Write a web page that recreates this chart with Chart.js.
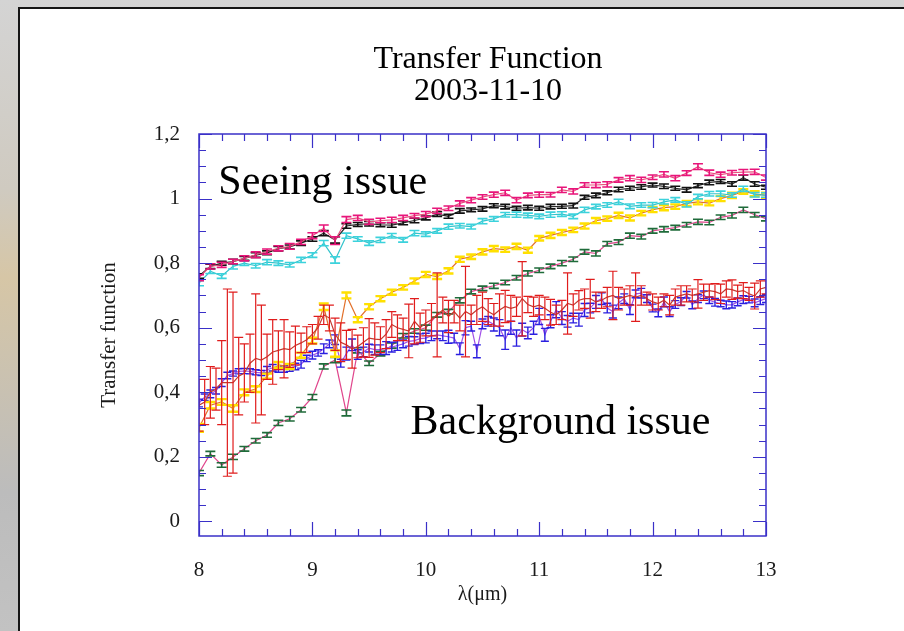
<!DOCTYPE html>
<html>
<head>
<meta charset="utf-8">
<script src="https://cdn.jsdelivr.net/npm/chart.js@4.4.1/dist/chart.umd.min.js"></script>
<style>
  html, body { margin: 0; padding: 0; width: 904px; height: 631px; overflow: hidden; }
  body {
    position: relative;
    background: linear-gradient(180deg, #d4d4d4 0%, #cfcac0 30%, #d6c6a6 44%, #cdc3ae 56%, #bcbcbc 78%, #c2c2c2 100%);
  }
  #panel { position: absolute; left: 18px; top: 7px; width: 900px; height: 640px;
           background: #fff; border: 2px solid #151515; box-sizing: border-box; }
  #wrap { position: absolute; left: 0; top: 0; width: 904px; height: 631px; }
</style>
</head>
<body>
<div id="panel"></div>
<div id="wrap"><canvas id="c" width="904" height="631"></canvas></div>
<script>
// Wavelength grids (µm)
const lambdaCoarse = [
  8.0, 8.1, 8.2, 8.3, 8.4, 8.5, 8.6, 8.7, 8.8, 8.9,
  9.0, 9.1, 9.2, 9.3, 9.4, 9.5, 9.6, 9.7, 9.8, 9.9,
  10.0, 10.1, 10.2, 10.3, 10.4, 10.5, 10.6, 10.7, 10.8, 10.9,
  11.0, 11.1, 11.2, 11.3, 11.4, 11.5, 11.6, 11.7, 11.8, 11.9,
  12.0, 12.1, 12.2, 12.3, 12.4, 12.5, 12.6, 12.7, 12.8, 12.9,
  13.0
];
const lambdaFine = [
  8.00, 8.05, 8.10, 8.15, 8.20, 8.25, 8.30, 8.35, 8.40, 8.45, 8.50, 8.55, 8.60, 8.65, 8.70, 8.75, 8.80, 8.85, 8.90, 8.95,
  9.00, 9.05, 9.10, 9.15, 9.20, 9.25, 9.30, 9.35, 9.40, 9.45, 9.50, 9.55, 9.60, 9.65, 9.70, 9.75, 9.80, 9.85, 9.90, 9.95,
  10.00, 10.05, 10.10, 10.15, 10.20, 10.25, 10.30, 10.35, 10.40, 10.45, 10.50, 10.55, 10.60, 10.65, 10.70, 10.75, 10.80, 10.85, 10.90, 10.95,
  11.00, 11.05, 11.10, 11.15, 11.20, 11.25, 11.30, 11.35, 11.40, 11.45, 11.50, 11.55, 11.60, 11.65, 11.70, 11.75, 11.80, 11.85, 11.90, 11.95,
  12.00, 12.05, 12.10, 12.15, 12.20, 12.25, 12.30, 12.35, 12.40, 12.45, 12.50, 12.55, 12.60, 12.65, 12.70, 12.75, 12.80, 12.85, 12.90, 12.95,
  13.00
];

// Tick values
const xTicks = [8, 9, 10, 11, 12, 13];
const yTicks = [0, 0.2, 0.4, 0.6, 0.8, 1, 1.2];

// Transfer function per calibrator, with 1-sigma errors
const magentaTF = [
  0.755, 0.79, 0.795, 0.805, 0.815, 0.826, 0.836, 0.846, 0.852, 0.866,
  0.885, 0.908, 0.87, 0.935, 0.94, 0.928, 0.932, 0.934, 0.94, 0.947,
  0.952, 0.962, 0.97, 0.985, 0.995, 1.005, 1.012, 1.018, 0.995, 1.01,
  1.012, 1.012, 1.027, 1.022, 1.042, 1.042, 1.044, 1.058, 1.063, 1.058,
  1.066, 1.075, 1.063, 1.079, 1.099, 1.08, 1.074, 1.08, 1.082, 1.083,
  1.065
];
const magentaErr = [
  0.009, 0.008, 0.008, 0.007, 0.008, 0.009, 0.008, 0.008, 0.009, 0.008,
  0.009, 0.01, 0.012, 0.009, 0.008, 0.008, 0.007, 0.008, 0.008, 0.007,
  0.008, 0.008, 0.007, 0.008, 0.008, 0.007, 0.008, 0.008, 0.008, 0.007,
  0.008, 0.007, 0.008, 0.008, 0.007, 0.008, 0.008, 0.007, 0.008, 0.008,
  0.007, 0.008, 0.008, 0.007, 0.009, 0.008, 0.008, 0.007, 0.008, 0.008,
  0.008
];
const blackTF = [
  0.76, 0.79, 0.8, 0.805, 0.815, 0.825, 0.832, 0.845, 0.85, 0.862,
  0.875, 0.893, 0.872, 0.915, 0.92, 0.922, 0.919, 0.918, 0.925, 0.932,
  0.94, 0.952, 0.945, 0.962, 0.965, 0.968, 0.978, 0.975, 0.97, 0.972,
  0.97, 0.975, 0.976, 0.978, 1.004, 1.01, 1.018, 1.028, 1.032, 1.036,
  1.042, 1.038, 1.032, 1.027, 1.04, 1.05, 1.053, 1.045, 1.065, 1.045,
  1.035
];
const blackErr = [
  0.007, 0.007, 0.006, 0.007, 0.006, 0.007, 0.006, 0.007, 0.006, 0.007,
  0.007, 0.008, 0.01, 0.007, 0.006, 0.007, 0.006, 0.007, 0.006, 0.007,
  0.006, 0.007, 0.006, 0.007, 0.006, 0.007, 0.006, 0.007, 0.006, 0.007,
  0.006, 0.007, 0.006, 0.007, 0.006, 0.007, 0.006, 0.007, 0.006, 0.007,
  0.006, 0.007, 0.006, 0.007, 0.006, 0.007, 0.006, 0.007, 0.008, 0.007,
  0.006
];
const cyanTF = [
  0.738, 0.775, 0.76, 0.79, 0.8, 0.792, 0.803, 0.8, 0.795, 0.81,
  0.825, 0.862, 0.81, 0.885, 0.875, 0.862, 0.872, 0.885, 0.872, 0.893,
  0.89, 0.9, 0.913, 0.916, 0.913, 0.93, 0.937, 0.95, 0.95, 0.948,
  0.945, 0.95, 0.952, 0.945, 0.965, 0.975, 0.98, 0.99, 0.976, 0.98,
  0.98, 0.99, 0.996, 0.982, 1.006, 1.015, 1.015, 1.011, 1.03, 1.012,
  1.011
];
const cyanErr = [
  0.008, 0.007, 0.007, 0.008, 0.007, 0.007, 0.008, 0.007, 0.007, 0.008,
  0.007, 0.008, 0.01, 0.008, 0.007, 0.007, 0.008, 0.007, 0.007, 0.008,
  0.007, 0.007, 0.008, 0.007, 0.007, 0.008, 0.007, 0.007, 0.008, 0.007,
  0.007, 0.008, 0.007, 0.007, 0.008, 0.007, 0.007, 0.008, 0.007, 0.007,
  0.008, 0.007, 0.007, 0.008, 0.007, 0.007, 0.008, 0.007, 0.008, 0.007,
  0.007
];
const yellowTF = [
  0.29, 0.36, 0.37, 0.35, 0.4, 0.41, 0.45, 0.485, 0.48, 0.515,
  0.56, 0.665, 0.52, 0.70, 0.625, 0.665, 0.69, 0.71, 0.725, 0.745,
  0.765, 0.758, 0.776, 0.812, 0.82, 0.835, 0.845, 0.842, 0.852, 0.84,
  0.877, 0.886, 0.895, 0.903, 0.915, 0.932, 0.938, 0.948, 0.94, 0.955,
  0.966, 0.972, 0.975, 0.985, 0.99, 0.986, 1.0, 1.01, 1.022, 1.015,
  1.01
];
const yellowErr = [
  0.012, 0.01, 0.009, 0.01, 0.009, 0.009, 0.008, 0.009, 0.008, 0.008,
  0.009, 0.01, 0.01, 0.009, 0.008, 0.008, 0.008, 0.008, 0.007, 0.008,
  0.008, 0.007, 0.008, 0.008, 0.007, 0.008, 0.008, 0.007, 0.008, 0.008,
  0.007, 0.008, 0.008, 0.007, 0.008, 0.008, 0.007, 0.008, 0.008, 0.007,
  0.008, 0.008, 0.007, 0.008, 0.008, 0.007, 0.008, 0.008, 0.007, 0.008,
  0.008
];
const greenTF = [
  0.15, 0.21, 0.175, 0.2, 0.225, 0.25, 0.268, 0.305, 0.318, 0.346,
  0.385, 0.48, 0.5, 0.336, 0.53, 0.49, 0.52, 0.545, 0.575, 0.59,
  0.6, 0.64, 0.65, 0.685, 0.712, 0.722, 0.73, 0.74, 0.755, 0.768,
  0.778, 0.79, 0.8, 0.812, 0.835, 0.83, 0.86, 0.865, 0.885, 0.882,
  0.9, 0.905, 0.91, 0.919, 0.928, 0.926, 0.942, 0.948, 0.965, 0.95,
  0.938
];
const greenErr = [
  0.008, 0.007, 0.007, 0.008, 0.007, 0.007, 0.007, 0.008, 0.007, 0.007,
  0.008, 0.008, 0.008, 0.009, 0.008, 0.007, 0.007, 0.008, 0.007, 0.007,
  0.008, 0.007, 0.007, 0.008, 0.007, 0.007, 0.008, 0.007, 0.007, 0.008,
  0.007, 0.007, 0.008, 0.007, 0.007, 0.008, 0.007, 0.007, 0.008, 0.007,
  0.007, 0.008, 0.007, 0.007, 0.008, 0.007, 0.007, 0.008, 0.008, 0.007,
  0.007
];
const blueTF = [
  0.367, 0.385, 0.395, 0.405, 0.43, 0.452, 0.458, 0.465, 0.466, 0.465, 0.462, 0.46, 0.47, 0.476, 0.47, 0.472, 0.475, 0.48, 0.487, 0.505,
  0.515, 0.522, 0.535, 0.55, 0.563, 0.49, 0.52, 0.547, 0.517, 0.525, 0.537, 0.532, 0.532, 0.537, 0.54, 0.545, 0.55, 0.558, 0.56, 0.566,
  0.568, 0.575, 0.578, 0.575, 0.572, 0.568, 0.535, 0.60, 0.605, 0.527, 0.612, 0.62, 0.61, 0.60, 0.563, 0.60, 0.568, 0.594, 0.584, 0.60,
  0.635, 0.578, 0.62, 0.656, 0.63, 0.62, 0.63, 0.625, 0.655, 0.661, 0.68, 0.69, 0.661, 0.65, 0.677, 0.69, 0.656, 0.705, 0.707, 0.69,
  0.661, 0.646, 0.68, 0.65, 0.672, 0.681, 0.702, 0.671, 0.69, 0.702, 0.685, 0.679, 0.675, 0.671, 0.671, 0.68, 0.687, 0.687, 0.677, 0.684,
  0.69
];
const blueErr = [
  0.012, 0.01, 0.012, 0.01, 0.012, 0.01, 0.008, 0.008, 0.008, 0.008, 0.008, 0.008, 0.01, 0.01, 0.008, 0.01, 0.01, 0.01, 0.012, 0.01,
  0.012, 0.01, 0.015, 0.012, 0.015, 0.012, 0.02, 0.018, 0.015, 0.015, 0.012, 0.015, 0.015, 0.02, 0.015, 0.015, 0.012, 0.015, 0.012, 0.015,
  0.015, 0.015, 0.012, 0.015, 0.02, 0.015, 0.018, 0.022, 0.015, 0.02, 0.015, 0.015, 0.02, 0.025, 0.03, 0.02, 0.025, 0.02, 0.018, 0.02,
  0.025, 0.02, 0.02, 0.025, 0.02, 0.018, 0.015, 0.02, 0.02, 0.015, 0.02, 0.018, 0.015, 0.02, 0.018, 0.015, 0.015, 0.012, 0.015, 0.012,
  0.012, 0.012, 0.015, 0.015, 0.012, 0.012, 0.01, 0.012, 0.012, 0.012, 0.01, 0.012, 0.01, 0.012, 0.01, 0.012, 0.012, 0.01, 0.012, 0.012,
  0.012
];
const redTF = [
  0.36, 0.37, 0.40, 0.41, 0.43, 0.43, 0.43, 0.45, 0.46, 0.49, 0.505, 0.50, 0.51, 0.525, 0.53, 0.535, 0.532, 0.545, 0.553, 0.563,
  0.58, 0.60, 0.64, 0.63, 0.58, 0.555, 0.547, 0.535, 0.542, 0.555, 0.568, 0.565, 0.563, 0.58, 0.61, 0.60, 0.595, 0.59, 0.62, 0.60,
  0.615, 0.625, 0.64, 0.655, 0.635, 0.65, 0.63, 0.65, 0.64, 0.655, 0.665, 0.65, 0.64, 0.655, 0.666, 0.66, 0.665, 0.69, 0.672, 0.665,
  0.67, 0.66, 0.648, 0.64, 0.655, 0.675, 0.67, 0.685, 0.69, 0.69, 0.68, 0.685, 0.695, 0.70, 0.69, 0.695, 0.70, 0.695, 0.70, 0.69,
  0.68, 0.675, 0.685, 0.67, 0.695, 0.70, 0.705, 0.70, 0.705, 0.71, 0.715, 0.712, 0.705, 0.72, 0.718, 0.712, 0.715, 0.705, 0.698, 0.72,
  0.725
];
const redErr = [
  0.08, 0.07, 0.08, 0.065, 0.13, 0.29, 0.28, 0.12, 0.09, 0.09, 0.2, 0.17, 0.07, 0.10, 0.06, 0.09, 0.055, 0.06, 0.03, 0.04,
  0.03, 0.035, 0.03, 0.04, 0.05, 0.06, 0.045, 0.06, 0.035, 0.045, 0.06, 0.05, 0.04, 0.045, 0.04, 0.04, 0.035, 0.083, 0.07, 0.045,
  0.04, 0.05, 0.13, 0.04, 0.05, 0.035, 0.04, 0.14, 0.03, 0.045, 0.045, 0.04, 0.035, 0.05, 0.05, 0.04, 0.03, 0.115, 0.025, 0.03,
  0.03, 0.035, 0.04, 0.03, 0.03, 0.095, 0.035, 0.03, 0.03, 0.06, 0.03, 0.025, 0.03, 0.075, 0.035, 0.025, 0.03, 0.075, 0.03, 0.02,
  0.025, 0.02, 0.02, 0.03, 0.025, 0.03, 0.025, 0.02, 0.044, 0.025, 0.02, 0.025, 0.03, 0.025, 0.03, 0.02, 0.025, 0.02, 0.04, 0.025,
  0.02
];

const SERIF = '"Liberation Serif", "Times New Roman", serif';
const AXIS_COLOR = '#3a30c8';

function series(xs, ys, errs, lineColor, capColor, capWidth, capHalf) {
  return {
    data: xs.map((x, i) => ({ x: x, y: ys[i] })),
    errors: errs,
    borderColor: lineColor,
    capColor: capColor,
    capWidth: capWidth,
    capHalf: capHalf,
    borderWidth: 1.2,
    pointRadius: 0,
    tension: 0,
    fill: false
  };
}

// Error bars, boxed frame with inward ticks, and text notes
const frameAndBars = {
  id: 'frameAndBars',
  afterDatasetDraw(chart, args) {
    const ds = chart.data.datasets[args.index];
    if (!ds.errors) return;
    const ys = chart.scales.y, ctx = chart.ctx, area = chart.chartArea;
    const half = ds.capHalf;
    ctx.save();
    ctx.beginPath();
    ctx.rect(area.left, area.top, area.right - area.left, area.bottom - area.top);
    ctx.clip();
    ctx.strokeStyle = ds.capColor;
    ctx.lineWidth = ds.capWidth;
    ctx.beginPath();
    args.meta.data.forEach((pt, i) => {
      const v = ds.data[i].y, e = ds.errors[i];
      const y1 = ys.getPixelForValue(v + e), y2 = ys.getPixelForValue(v - e);
      ctx.moveTo(pt.x, y1); ctx.lineTo(pt.x, y2);
      ctx.moveTo(pt.x - half, y1); ctx.lineTo(pt.x + half, y1);
      ctx.moveTo(pt.x - half, y2); ctx.lineTo(pt.x + half, y2);
    });
    ctx.stroke();
    ctx.restore();
  },
  afterDraw(chart, args, opts) {
    const ctx = chart.ctx, xs = chart.scales.x, ys = chart.scales.y;
    const { left, right, top, bottom } = chart.chartArea;
    ctx.save();
    ctx.strokeStyle = AXIS_COLOR;
    ctx.lineWidth = 1.5;
    ctx.strokeRect(left, top, right - left, bottom - top);
    ctx.lineWidth = 1.2;
    ctx.beginPath();
    // x: 5 subdivisions per major interval
    for (let m = 0; m < xTicks.length; m++) {
      const last = m === xTicks.length - 1;
      const step = last ? 0 : (xTicks[m + 1] - xTicks[m]) / 5;
      for (let k = 0; k < (last ? 1 : 5); k++) {
        const len = k === 0 ? 14 : 7;
        const px = Math.round(xs.getPixelForValue(xTicks[m] + k * step)) + 0.5;
        ctx.moveTo(px, bottom); ctx.lineTo(px, bottom - len);
        ctx.moveTo(px, top); ctx.lineTo(px, top + len);
      }
    }
    // y: 4 subdivisions per major interval
    for (let m = 0; m < yTicks.length; m++) {
      const last = m === yTicks.length - 1;
      const step = last ? 0 : (yTicks[m + 1] - yTicks[m]) / 4;
      for (let k = 0; k < (last ? 1 : 4); k++) {
        const len = k === 0 ? 13 : 7;
        const py = Math.round(ys.getPixelForValue(yTicks[m] + k * step)) + 0.5;
        ctx.moveTo(left, py); ctx.lineTo(left + len, py);
        ctx.moveTo(right, py); ctx.lineTo(right - len, py);
      }
    }
    ctx.stroke();
    // text notes anchored in data units
    ctx.fillStyle = '#000';
    ctx.textBaseline = 'alphabetic';
    ctx.textAlign = 'left';
    ctx.font = '42px ' + SERIF;
    (opts.notes || []).forEach(n => {
      ctx.fillText(n.text, xs.getPixelForValue(n.x), ys.getPixelForValue(n.y));
    });
    ctx.restore();
  }
};

new Chart(document.getElementById('c'), {
  type: 'line',
  data: {
    datasets: [
      series(lambdaFine, redTF, redErr, '#c43a30', '#e01c1c', 1.2, 4.5),
      series(lambdaCoarse, magentaTF, magentaErr, '#e8507e', '#e8157a', 1.6, 5),
      series(lambdaCoarse, blackTF, blackErr, '#2a2a2a', '#111111', 1.6, 5),
      series(lambdaCoarse, cyanTF, cyanErr, '#34c4cc', '#3cd2dc', 1.6, 5),
      series(lambdaCoarse, yellowTF, yellowErr, '#e2702a', '#ffe000', 2.4, 5),
      series(lambdaFine, blueTF, blueErr, '#a050e8', '#2b1fe0', 1.4, 4),
      series(lambdaCoarse, greenTF, greenErr, '#e0458c', '#1f6b3a', 1.6, 5)
    ]
  },
  options: {
    responsive: false,
    animation: false,
    devicePixelRatio: 1,
    layout: { padding: { left: 72, right: 0, top: 0, bottom: 0 } },
    plugins: {
      legend: { display: false },
      tooltip: { enabled: false },
      title: {
        display: true,
        text: ['Transfer Function', '2003-11-10'],
        color: '#000',
        font: { family: SERIF, size: 32, weight: 'normal', lineHeight: 1 },
        padding: { top: 44, bottom: 26 }
      },
      frameAndBars: {
        notes: [
          { text: 'Seeing issue', x: 8.17, y: 1.015 },
          { text: 'Background issue', x: 9.866, y: 0.27 }
        ]
      }
    },
    scales: {
      x: {
        type: 'linear',
        min: 8, max: 13,
        grid: { display: false, drawTicks: false },
        border: { display: false },
        afterBuildTicks: s => { s.ticks = xTicks.map(v => ({ value: v })); },
        afterFit: s => { s.height = 95; },
        ticks: {
          color: '#1a1a1a', padding: 22, maxRotation: 0,
          font: { family: SERIF, size: 21 },
          callback: v => String(v)
        },
        title: {
          display: true, text: 'λ(μm)', color: '#1a1a1a',
          font: { family: SERIF, size: 20 },
          padding: { top: 0, bottom: 24 }
        }
      },
      y: {
        type: 'linear',
        position: 'left',
        min: -0.045, max: 1.2,
        grid: { display: false, drawTicks: false },
        border: { display: false },
        afterBuildTicks: s => { s.ticks = yTicks.map(v => ({ value: v })); },
        afterFit: s => { s.width = 127; },
        ticks: {
          color: '#1a1a1a', padding: 19,
          font: { family: SERIF, size: 21 },
          callback: v => String(+v.toFixed(2)).replace('.', ',')
        },
        title: {
          display: true, text: 'Transfer function', color: '#1a1a1a',
          font: { family: SERIF, size: 21 },
          padding: { top: 25, bottom: 0 }
        }
      },
      yRight: {
        type: 'linear',
        position: 'right',
        display: true,
        grid: { display: false, drawTicks: false },
        border: { display: false },
        ticks: { display: false },
        afterFit: s => { s.width = 138; }
      }
    }
  },
  plugins: [frameAndBars]
});
</script>
</body>
</html>
